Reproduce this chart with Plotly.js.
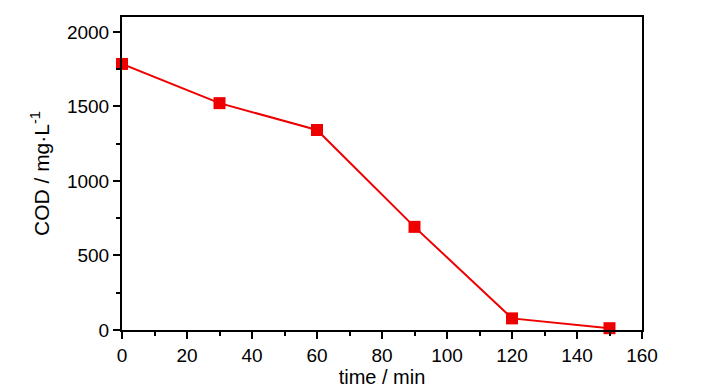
<!DOCTYPE html>
<html>
<head>
<meta charset="utf-8">
<script src="https://cdn.plot.ly/plotly-3.0.1.min.js"></script>
<style>html,body{margin:0;padding:0;background:#fff;}#chart{width:728px;height:390px;}</style>
</head>
<body>
<div id="chart"></div>
<script>
const timeMin = [0, 30, 60, 90, 120, 150];
const codValues = [1785, 1522, 1342, 692, 78, 12];
const xTitle = "time / min";
const yTitle = "COD / mg·L<sup>-1</sup>";

const fontFam = '"Liberation Sans", Arial, sans-serif';

const trace = {
  x: timeMin,
  y: codValues,
  type: 'scatter',
  mode: 'lines+markers',
  line: {color: '#ee0000', width: 2},
  marker: {symbol: 'square', size: 12, color: '#ee0000'},
  cliponaxis: false,
  showlegend: false
};

const axisCommon = {
  showline: true, linecolor: '#000', linewidth: 2, mirror: true,
  ticks: 'outside', ticklen: 7, tickwidth: 2, tickcolor: '#000',
  showgrid: false, zeroline: false,
  tickfont: {family: fontFam, size: 19, color: '#000'}
};

const layout = {
  width: 728, height: 390,
  margin: {l: 122, r: 86, t: 17, b: 60},
  paper_bgcolor: '#fff', plot_bgcolor: '#fff',
  font: {family: fontFam, color: '#000'},
  xaxis: Object.assign({}, axisCommon, {
    range: [0, 160], dtick: 20, tick0: 0,
    minor: {ticks: 'outside', ticklen: 4, tickwidth: 2, tickcolor: '#000', dtick: 10, showgrid: false},
    title: {text: xTitle, font: {family: fontFam, size: 20, color: '#000'}, standoff: 4}
  }),
  yaxis: Object.assign({}, axisCommon, {
    range: [0, 2100], dtick: 500, tick0: 0,
    minor: {ticks: 'outside', ticklen: 4, tickwidth: 2, tickcolor: '#000', dtick: 250, showgrid: false},
    title: {text: yTitle, font: {family: fontFam, size: 21, color: '#000'}, standoff: 12}
  })
};

Plotly.newPlot('chart', [trace], layout, {displayModeBar: false, staticPlot: true});
</script>
</body>
</html>
